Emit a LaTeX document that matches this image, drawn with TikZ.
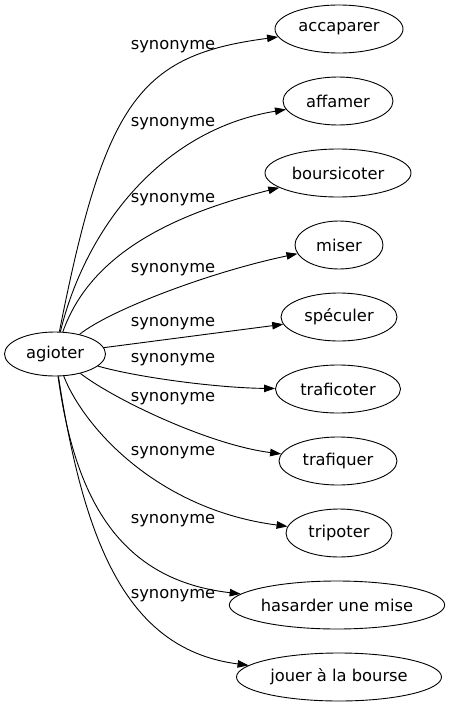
\documentclass[tikz,border=0pt]{standalone}
\usepackage{fontspec}
\setmainfont{DejaVu Sans}
\usepackage{tikz}
\usetikzlibrary{arrows.meta,shapes.geometric}

\begin{document}
\begin{tikzpicture}[x=1pt, y=-1pt, line width=0.9pt, every node/.style={font=\fontsize{16.3}{19}\selectfont}, word/.style={draw, ellipse, inner sep=0pt, minimum height=48pt}, rel/.style={inner sep=0pt}, syn/.style={-{Triangle[length=11pt,width=7.5pt]}}]
\useasboundingbox (0,0) rectangle (452,707);
% source and targets
\node[word, minimum width=101pt, minimum height=44pt] (agioter) at (55,354) {agioter};
\node[word, minimum width=128pt] (accaparer) at (339,29) {accaparer};
\node[word, minimum width=110pt] (affamer) at (338,101) {affamer};
\node[word, minimum width=146pt] (boursicoter) at (338,173) {boursicoter};
\node[word, minimum width=88pt] (miser) at (339,245) {miser};
\node[word, minimum width=116pt] (speculer) at (339,317) {spéculer};
\node[word, minimum width=125pt] (traficoter) at (338,389) {traficoter};
\node[word, minimum width=118pt] (trafiquer) at (338,461) {trafiquer};
\node[word, minimum width=106pt] (tripoter) at (339,533) {tripoter};
\node[word, minimum width=213pt] (hasarder) at (337,605) {hasarder une mise};
\node[word, minimum width=205pt] (jouer) at (339,677) {jouer à la bourse};
% edge labels
\node[rel] (lab1) at (173,47) {synonyme};
\node[rel] (lab2) at (173,124) {synonyme};
\node[rel] (lab3) at (173,200) {synonyme};
\node[rel] (lab4) at (173,270) {synonyme};
\node[rel] (lab5) at (173,324) {synonyme};
\node[rel] (lab6) at (173,360) {synonyme};
\node[rel] (lab7) at (173,399) {synonyme};
\node[rel] (lab8) at (173,453) {synonyme};
\node[rel] (lab9) at (173,521) {synonyme};
\node[rel] (lab10) at (173,596) {synonyme};
% edges
\draw[syn] (agioter) .. controls (105,100) and (140,55) .. (accaparer);
\draw[syn] (agioter) .. controls (85,230) and (160,130) .. (affamer);
\draw[syn] (agioter) .. controls (90,255) and (170,215) .. (boursicoter);
\draw[syn] (agioter) .. controls (110,310) and (210,272) .. (miser);
\draw[syn] (agioter) -- (speculer);
\draw[syn] (agioter) .. controls (140,378) and (220,388) .. (traficoter);
\draw[syn] (agioter) .. controls (115,400) and (210,445) .. (trafiquer);
\draw[syn] (agioter) .. controls (85,430) and (160,510) .. (tripoter);
\draw[syn] (agioter) .. controls (75,500) and (120,580) .. (hasarder);
\draw[syn] (agioter) .. controls (85,550) and (130,650) .. (jouer);
\end{tikzpicture}
\end{document}
